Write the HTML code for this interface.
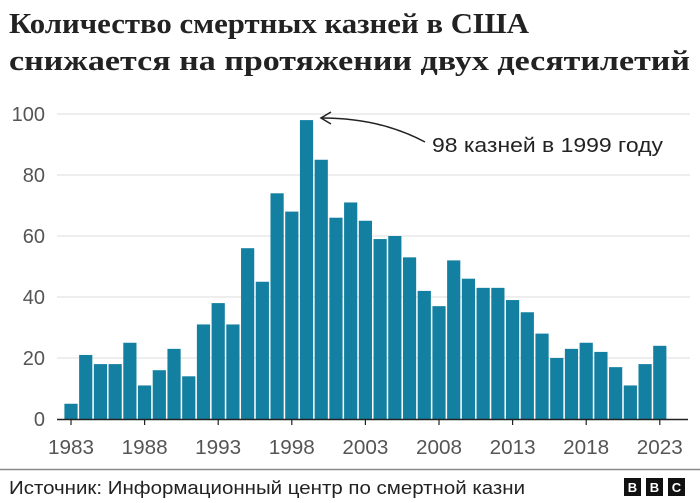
<!DOCTYPE html>
<html><head><meta charset="utf-8"><style>
body{margin:0;background:#fff;}
svg{display:block;font-family:"Liberation Sans","DejaVu Sans",sans-serif;}
</style></head><body>
<svg id="chart" width="700" height="503" viewBox="0 0 700 503">
<text x="9" y="33" font-family="Liberation Serif, serif" font-weight="bold" font-size="28" fill="#222" textLength="520" lengthAdjust="spacingAndGlyphs">Количество смертных казней в США</text>
<text x="9" y="70" font-family="Liberation Serif, serif" font-weight="bold" font-size="28" fill="#222" textLength="681" lengthAdjust="spacingAndGlyphs">снижается на протяжении двух десятилетий</text>
<g id="grid"></g>
<g id="bars"></g>
<g id="axis"></g>
<path d="M425,142 Q380,118 322,118" fill="none" stroke="#222" stroke-width="1.5"/>
<path d="M331,112 L321,118 L331,124" fill="none" stroke="#222" stroke-width="1.5"/>
<text x="432" y="152" font-size="20" fill="#222" textLength="231" lengthAdjust="spacingAndGlyphs">98 казней в 1999 году</text>
<line x1="0" y1="469.5" x2="700" y2="469.5" stroke="#888" stroke-width="1.5"/>
<text x="9" y="494" font-size="18" fill="#222" textLength="516" lengthAdjust="spacingAndGlyphs">Источник: Информационный центр по смертной казни</text>
<g font-weight="bold" font-size="13" fill="#fff" text-anchor="middle">
<rect x="624" y="478" width="17" height="18" fill="#111"/><text x="632.5" y="492">B</text>
<rect x="646" y="478" width="17" height="18" fill="#111"/><text x="654.5" y="492">B</text>
<rect x="668" y="478" width="17" height="18" fill="#111"/><text x="676.5" y="492">C</text>
</g>
</svg>
<script>
const years=[1983,1984,1985,1986,1987,1988,1989,1990,1991,1992,1993,1994,1995,1996,1997,1998,1999,2000,2001,2002,2003,2004,2005,2006,2007,2008,2009,2010,2011,2012,2013,2014,2015,2016,2017,2018,2019,2020,2021,2022,2023];
const executions=[5,21,18,18,25,11,16,23,14,31,38,31,56,45,74,68,98,85,66,71,65,59,60,53,42,37,52,46,43,43,39,35,28,20,23,25,22,17,11,18,24];
const yTicks=[0,20,40,60,80,100];
const xTicks=[1983,1988,1993,1998,2003,2008,2013,2018,2023];
const NS="http://www.w3.org/2000/svg";
const x0=71,step=14.72,bw=13.2,yb=419,ppu=3.05;
const xs=y=>x0+(y-years[0])*step;
const ys=v=>yb-v*ppu;
function mk(t,a,p){const e=document.createElementNS(NS,t);for(const k in a)e.setAttribute(k,a[k]);p.appendChild(e);return e;}
const grid=document.getElementById('grid'),bars=document.getElementById('bars'),axis=document.getElementById('axis');
yTicks.forEach(v=>{
 if(v>0){const l=mk('line',{x1:57,x2:690,y1:ys(v),y2:ys(v),stroke:'#ddd','stroke-width':1},grid);
 
 }
 const t=mk('text',{x:45,y:ys(v)+7,'text-anchor':'end','font-size':20,fill:'#555'},grid);
 t.textContent=v;
 
 
});
years.forEach((y,i)=>{
 const r=mk('rect',{x:xs(y)-bw/2,y:ys(executions[i]),width:bw,height:executions[i]*ppu,fill:'#1380a1'},bars);
 
 
});
const al=mk('line',{x1:57,x2:688,y1:yb+0.5,y2:yb+0.5,stroke:'#222','stroke-width':1.5},axis);


xTicks.forEach(y=>{
 const tk=mk('line',{x1:xs(y),x2:xs(y),y1:yb,y2:yb+6,stroke:'#222','stroke-width':1.2},axis);
 
 
 const t=mk('text',{x:xs(y)-23,y:yb+35,'font-size':20,fill:'#555',textLength:46,lengthAdjust:'spacingAndGlyphs'},axis);
 t.textContent=y;
 
 
});
</script>
</body></html>
